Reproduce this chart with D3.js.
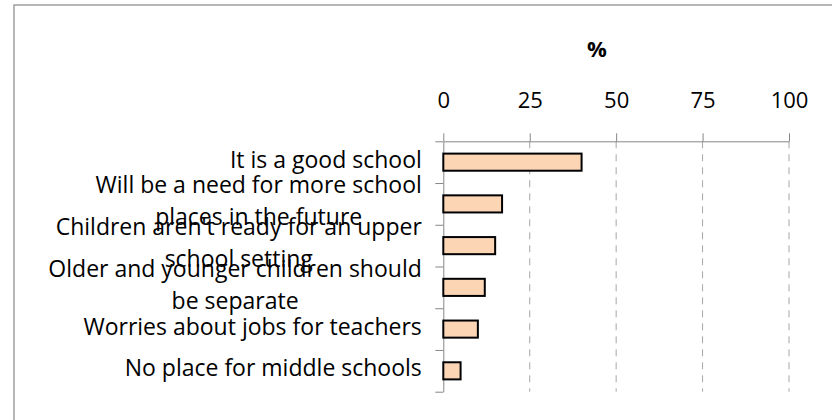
<!DOCTYPE html>
<html>
<meta charset="utf-8" />
<head>
<title>Reasons</title>
<style>
body { margin: 0; background: #fff; }
svg { display: block; }
svg text {
  font-family: "Open Sans", sans-serif;
  fill: #000;
}
.axis path, .axis line { stroke: #868686; }
.grid line { stroke: #a6a6a6; stroke-dasharray: 7,6; }
</style>
<script src="https://d3js.org/d3.v7.min.js" charset="utf-8"></script>
</head>
<body>
<svg class="chart"></svg>
<script>
var chartWidth = 832;
var chartHeight = 420;

// data
var categories = [
  ["It is a good school"],
  ["Will be a need for more school", "places in the future"],
  ["Children aren't ready for an upper", "school setting"],
  ["Older and younger children should", "be separate"],
  ["Worries about jobs for teachers"],
  ["No place for middle schools"]
];
var values = [40, 17, 15, 12, 10, 5];
var tickLabels = [0, 25, 50, 75, 100];
var axisTitle = "%";

var plotLeft = 443.3, plotRight = 789, plotTop = 141.3, plotBottom = 391.7;

var svg = d3.select(".chart")
  .attr("width", chartWidth)
  .attr("height", chartHeight);

// chart border
svg.append("rect")
  .attr("x", 14).attr("y", 5)
  .attr("width", 900).attr("height", 600)
  .attr("fill", "none")
  .attr("stroke", "#a0a0a0")
  .attr("stroke-width", 1.5);

var x = d3.scaleLinear().domain([0, 100]).range([plotLeft, plotRight]);

var y = d3.scaleBand()
  .domain(d3.range(categories.length))
  .range([plotTop, plotBottom])
  .paddingInner(0.59)
  .paddingOuter(0.295);

var yEdge = d3.scaleLinear().domain([0, categories.length]).range([plotTop, plotBottom]);

// gridlines
svg.append("g").attr("class", "grid")
  .selectAll("line")
  .data(tickLabels.slice(1))
  .enter().append("line")
  .attr("x1", function(d) { return x(d); })
  .attr("x2", function(d) { return x(d); })
  .attr("y1", plotTop)
  .attr("y2", plotBottom);

// top value axis
var xAxis = svg.append("g").attr("class", "axis")
  .attr("transform", "translate(0," + plotTop + ")")
  .call(d3.axisTop(x).tickValues(tickLabels).tickSize(8).tickSizeOuter(0).tickPadding(25));
xAxis.selectAll("text").style("font-size", "22px").style("font-family", "'Open Sans', sans-serif");
xAxis.select(".domain").attr("stroke", "#868686");

// left category axis (ticks at band edges)
var yAxis = svg.append("g").attr("class", "axis")
  .attr("transform", "translate(" + plotLeft + ",0)")
  .call(d3.axisLeft(yEdge).tickValues(d3.range(categories.length + 1)).tickSize(8).tickSizeOuter(0).tickFormat(""));

// bars
svg.append("g").selectAll("rect")
  .data(values)
  .enter().append("rect")
  .attr("x", x(0))
  .attr("y", function(d, i) { return y(i); })
  .attr("width", function(d) { return x(d) - x(0); })
  .attr("height", y.bandwidth())
  .attr("fill", "#fcd5b5")
  .attr("stroke", "#000")
  .attr("stroke-width", 2);

// category labels
var labelRight = plotLeft - 21.5;
var lineGap = 32;
var labels = svg.append("g").selectAll("g")
  .data(categories)
  .enter().append("g");

labels.each(function(lines, i) {
  var g = d3.select(this);
  var cy = y(i) + y.bandwidth() / 2;
  var first = g.append("text")
    .attr("x", labelRight)
    .attr("y", cy + 5.5 - (lines.length - 1) / 2 * lineGap)
    .attr("text-anchor", "end")
    .style("font-size", "23px")
    .text(lines[0]);
  var w = first.node().getComputedTextLength();
  for (var k = 1; k < lines.length; k++) {
    g.append("text")
      .attr("x", labelRight - w / 2)
      .attr("y", cy + 5.5 + (k - (lines.length - 1) / 2) * lineGap)
      .attr("text-anchor", "middle")
      .style("font-size", "23px")
      .text(lines[k]);
  }
});

// axis title
svg.append("text")
  .attr("x", 597)
  .attr("y", 57)
  .attr("text-anchor", "middle")
  .style("font-size", "22px")
  .style("font-weight", "bold")
  .text(axisTitle);
</script>
</body>
</html>
